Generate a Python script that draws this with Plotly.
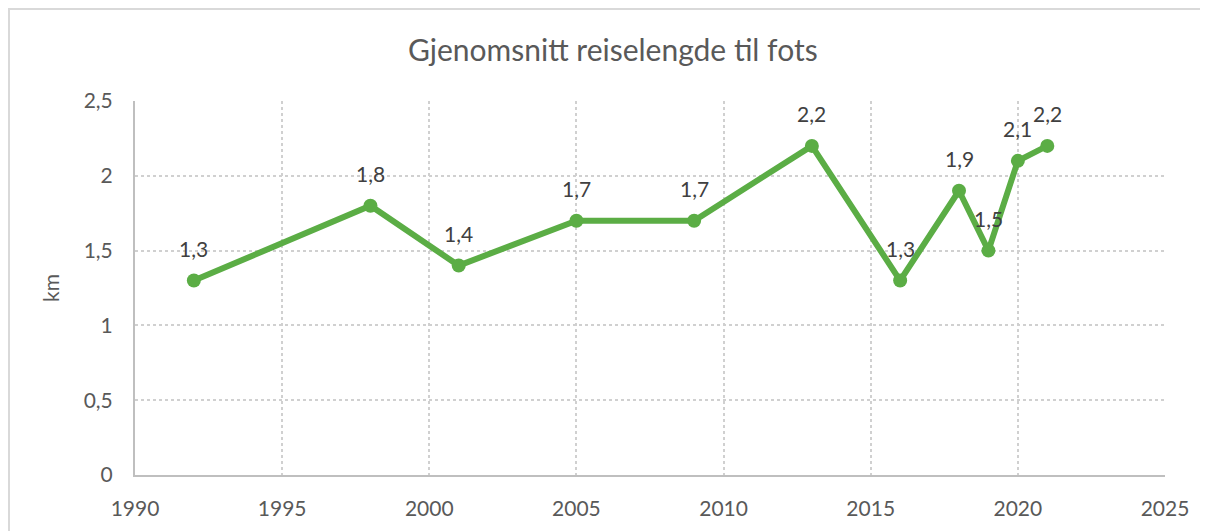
import plotly.graph_objects as go

years = [1992, 1998, 2001, 2005, 2009, 2013, 2016, 2018, 2019, 2020, 2021]
km = [1.3, 1.8, 1.4, 1.7, 1.7, 2.2, 1.3, 1.9, 1.5, 2.1, 2.2]
labels = ["1,3", "1,8", "1,4", "1,7", "1,7", "2,2", "1,3", "1,9", "1,5", "2,1", "2,2"]

title = "Gjenomsnitt reiselengde til fots"
y_title = "km"

FONT = "Lato, 'Open Sans', sans-serif"
TXT = "#595959"
GREEN = "#5BAD45"

W, H = 1200, 523
L, R, T, B = 127, 43, 93, 56
PW, PH = W - L - R, H - T - B

fig = go.Figure()
fig.add_trace(go.Scatter(
    x=years, y=km, mode="lines+markers",
    line=dict(color=GREEN, width=6),
    marker=dict(color=GREEN, size=14),
    hoverinfo="x+y", showlegend=False,
))

for x, y, t in zip(years, km, labels):
    fig.add_annotation(x=x, y=y, text=t, showarrow=False, yshift=32,
                       font=dict(family=FONT, size=21, color="#404040"))

fig.add_shape(type="rect", xref="paper", yref="paper",
              x0=-(L - 1) / PW, x1=1.1, y0=-0.3, y1=1 + (T - 1) / PH,
              line=dict(color="#D9D9D9", width=2), layer="below")

fig.update_layout(
    width=W, height=H,
    margin=dict(l=L, r=R, t=T, b=B),
    paper_bgcolor="white", plot_bgcolor="white",
    separators=", ",
    title=dict(text=title, x=0.504, xanchor="center", y=1 - 42 / H, yanchor="middle",
               xref="container",
               font=dict(family=FONT, size=30, color=TXT)),
    font=dict(family=FONT, size=21, color=TXT),
    xaxis=dict(range=[1990, 2025], tickvals=[1990, 1995, 2000, 2005, 2010, 2015, 2020, 2025],
               showgrid=True, gridcolor="#D0D0D0", griddash="dot", gridwidth=1.5,
               showline=True, linecolor="#BFBFBF", linewidth=2,
               zeroline=False, ticks="", ticklabelstandoff=14,
               tickfont=dict(family=FONT, size=21, color=TXT)),
    yaxis=dict(range=[0, 2.5], tickvals=[0, 0.5, 1, 1.5, 2, 2.5],
               showgrid=True, gridcolor="#D0D0D0", griddash="dot", gridwidth=1.5,
               showline=True, linecolor="#BFBFBF", linewidth=2,
               zeroline=False, ticks="", ticklabelstandoff=16,
               title=dict(text=y_title, standoff=18,
                          font=dict(family=FONT, size=21, color=TXT)),
               tickfont=dict(family=FONT, size=21, color=TXT)),
)

fig.write_html("out.html")
